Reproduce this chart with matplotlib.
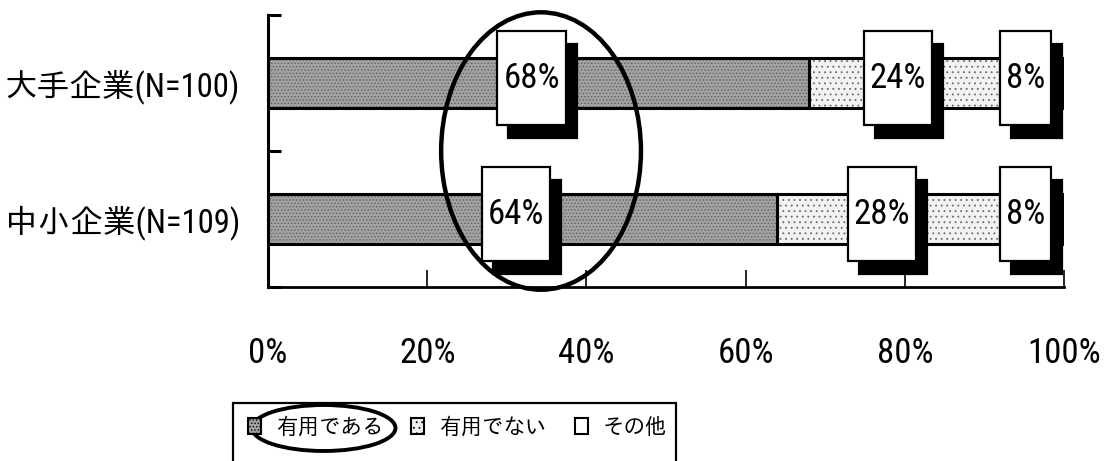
import numpy as np
import matplotlib
matplotlib.use('Agg')
import matplotlib.pyplot as plt
from matplotlib.patches import Rectangle, Ellipse, Patch
from matplotlib.transforms import offset_copy

plt.rcParams['font.family'] = ['Roboto Condensed', 'IPAGothic', 'Noto Sans CJK JP', 'DejaVu Sans']
plt.rcParams['hatch.linewidth'] = 0.6

# data
companies = ['大手企業(N=100)', '中小企業(N=109)']
answers = ['有用である', '有用でない', 'その他']
useful = [68, 64]
not_useful = [24, 28]
other = [8, 8]
x_ticks = [0, 20, 40, 60, 80, 100]

face_cols = ['#a2a2a2', '#f2f2f2', 'white']
hatch_cols = ['#5e5e5e', '#6a6a6a', 'white']
hatches = ['.....', '...', '']

fig = plt.figure(figsize=(11.07, 4.61), dpi=100)
ax = fig.add_axes([0.2421, 0.3774, 0.7191, 0.5900])

ypos = np.array([1.5, 0.5])
values = np.array([useful, not_useful, other], dtype=float)
lefts = np.vstack([np.zeros(2), np.cumsum(values, axis=0)[:-1]])
bar_h = 0.37

for i in range(3):
    ax.barh(ypos, values[i], left=lefts[i], height=bar_h, color=face_cols[i],
            hatch=hatches[i], edgecolor=hatch_cols[i], linewidth=0, zorder=2)
    ax.barh(ypos, values[i], left=lefts[i], height=bar_h, fill=False,
            edgecolor='black', linewidth=2.2, zorder=3)

ax.set_xlim(0, 100)
ax.set_ylim(0, 2)
ax.set_xticks(x_ticks)
ax.set_xticklabels([f'{t}%' for t in x_ticks], fontsize=25)
ax.tick_params(axis='x', direction='in', length=12, width=1.2, pad=36)
ax.set_yticks([0, 1, 2])
ax.set_yticklabels([])
ax.tick_params(axis='y', which='major', direction='in', length=9.5, width=2.2)
ax.set_yticks(ypos, minor=True)
ax.set_yticklabels(companies, minor=True, fontsize=23.5)
ax.tick_params(axis='y', which='minor', length=0, pad=20)
for s in ['top', 'right']:
    ax.spines[s].set_visible(False)
ax.spines['left'].set_linewidth(2.2)
ax.spines['bottom'].set_linewidth(2.0)

# percentage call-outs with drop shadows
lab_tr = offset_copy(ax.transData, fig=fig, x=-7, y=5, units='dots')
labels = []
for i in range(3):
    for j in range(2):
        cx = lefts[i][j] + values[i][j] / 2
        t = ax.text(cx, ypos[j], f'{int(values[i][j])}%', transform=lab_tr,
                    ha='center', va='center', fontsize=25, zorder=8)
        labels.append(t)

fig.canvas.draw()
rend = fig.canvas.get_renderer()
inv = ax.transData.inverted()
for t in labels:
    bb = t.get_window_extent(rend)
    yc = (bb.y0 + bb.y1) / 2
    x0, x1 = bb.x0 - 6, bb.x1 + 6
    y0, y1 = yc - 47, yc + 47
    for dx, dy, fc, z in [(11, -13, 'black', 5), (0, 0, 'white', 6)]:
        (a0, b0), (a1, b1) = inv.transform([(x0 + dx, y0 + dy), (x1 + dx, y1 + dy)])
        ax.add_patch(Rectangle((a0, b0), a1 - a0, b1 - b0, facecolor=fc,
                               edgecolor='black', linewidth=1.6, zorder=z, clip_on=False))

# big ellipse around the "useful" column
ax.add_patch(Ellipse((34.3, 1.0), 25.1, 2.04, fill=False, edgecolor='black',
                     linewidth=3.2, zorder=9, clip_on=False))

# legend
handles = [Patch(facecolor=face_cols[i], edgecolor='black', hatch=hatches[i], linewidth=1.5)
           for i in range(3)]
leg = fig.legend(handles, answers, loc='center left', bbox_to_anchor=(0.224, 1 - 428 / 461),
                 ncol=3, frameon=False, fontsize=15.5, handlelength=0.6, handleheight=0.75,
                 handletextpad=0.7, columnspacing=1.3, borderpad=0, borderaxespad=0)

fig.canvas.draw()
lb = leg.get_window_extent(rend)
ftr = fig.transFigure.inverted()
(fx0, fy0), (fx1, fy1) = ftr.transform([(lb.x0 - 15, -20), (lb.x1 + 9, (lb.y0 + lb.y1) / 2 + 25)])
fig.patches.append(Rectangle((fx0, fy0), fx1 - fx0, fy1 - fy0, transform=fig.transFigure,
                             fill=False, edgecolor='black', linewidth=1.6))

tb = leg.get_texts()[0].get_window_extent(rend)
(ex, ey), = ftr.transform([((tb.x0 + tb.x1) / 2 - 6, (tb.y0 + tb.y1) / 2)])
ew = (tb.width + 36) / fig.bbox.width
eh = 46 / fig.bbox.height
fig.patches.append(Ellipse((ex, ey), ew, eh, transform=fig.transFigure, fill=False,
                           edgecolor='black', linewidth=2.8))

fig.savefig('out.png', dpi=100)
